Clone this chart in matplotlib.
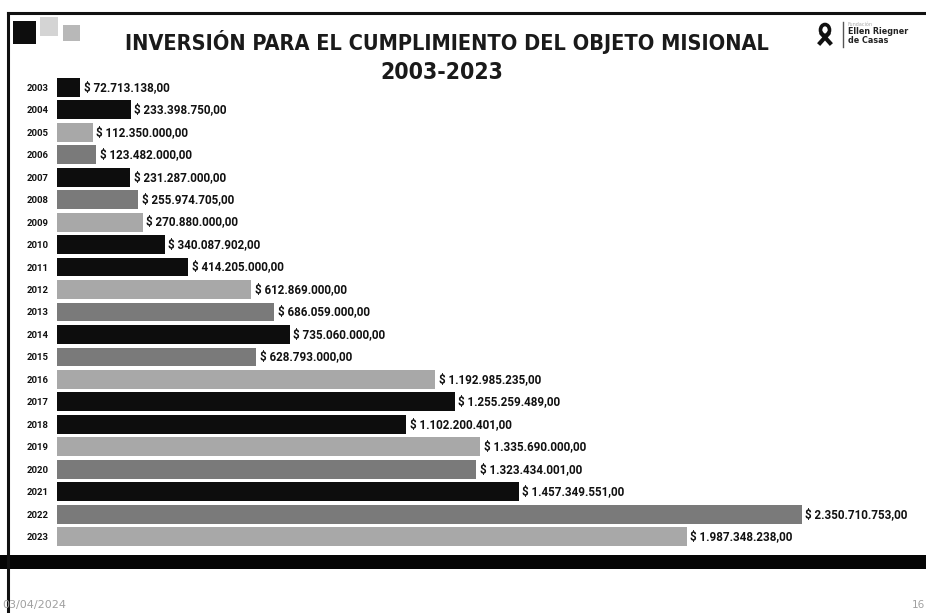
import matplotlib
matplotlib.use("Agg")
import matplotlib.pyplot as plt
from matplotlib.patches import Rectangle, Ellipse
from matplotlib.lines import Line2D
from matplotlib import font_manager

years = ["2003", "2004", "2005", "2006", "2007", "2008", "2009", "2010", "2011", "2012", "2013",
         "2014", "2015", "2016", "2017", "2018", "2019", "2020", "2021", "2022", "2023"]
values = [72713138.00, 233398750.00, 112350000.00, 123482000.00, 231287000.00, 255974705.00,
          270880000.00, 340087902.00, 414205000.00, 612869000.00, 686059000.00, 735060000.00,
          628793000.00, 1192985235.00, 1255259489.00, 1102200401.00, 1335690000.00,
          1323434001.00, 1457349551.00, 2350710753.00, 1987348238.00]
labels = ["$ 72.713.138,00", "$ 233.398.750,00", "$ 112.350.000,00", "$ 123.482.000,00",
          "$ 231.287.000,00", "$ 255.974.705,00", "$ 270.880.000,00", "$ 340.087.902,00",
          "$ 414.205.000,00", "$ 612.869.000,00", "$ 686.059.000,00", "$ 735.060.000,00",
          "$ 628.793.000,00", "$ 1.192.985.235,00", "$ 1.255.259.489,00", "$ 1.102.200.401,00",
          "$ 1.335.690.000,00", "$ 1.323.434.001,00", "$ 1.457.349.551,00", "$ 2.350.710.753,00",
          "$ 1.987.348.238,00"]
tones = ["k", "k", "l", "m", "k", "m", "l", "k", "k", "l", "m", "k", "m", "l", "k", "k", "l", "m", "k", "m", "l"]
title = "INVERSIÓN PARA EL CUMPLIMIENTO DEL OBJETO MISIONAL"
subtitle = "2003-2023"

# look for a condensed bold face
cond = None
for f in font_manager.fontManager.ttflist:
    n = f.fname.lower()
    if ("condensed" in n or "narrow" in n) and ("bold" in n) and "oblique" not in n and "italic" not in n:
        cond = f.fname
        break
if cond:
    title_fp = font_manager.FontProperties(fname=cond, size=15.6)
    sub_fp = font_manager.FontProperties(fname=cond, size=16.5)
else:
    title_fp = font_manager.FontProperties(family="DejaVu Sans", weight="bold", size=13.5)
    sub_fp = font_manager.FontProperties(family="DejaVu Sans", weight="bold", size=15)

palette = {"k": "#0d0d0d", "m": "#7a7a7a", "l": "#a8a8a8"}
W, H = 926, 613
fig = plt.figure(figsize=(W / 100, H / 100), dpi=100)
fig.patch.set_facecolor("white")

def fx(px):
    return px / W

def fy(py):
    return 1 - py / H

# slide frame
fig.add_artist(Line2D([fx(8), fx(926)], [fy(13), fy(13)], color="#111111", lw=2.2))
fig.add_artist(Line2D([fx(8), fx(8)], [fy(13), fy(613)], color="#111111", lw=2.2))
# bottom thick band
fig.add_artist(Rectangle((0, fy(569)), 1, (569 - 555) / H, color="#050505", lw=0))

# decorative squares
fig.add_artist(Rectangle((fx(13), fy(44)), 23 / W, 23 / H, color="#0d0d0d", lw=0))
fig.add_artist(Rectangle((fx(40), fy(36)), 18 / W, 19 / H, color="#d4d4d4", lw=0))
fig.add_artist(Rectangle((fx(63), fy(41)), 17 / W, 16 / H, color="#b8b8b8", lw=0))

# title
fig.text(fx(447), fy(42), title, ha="center", va="center", fontproperties=title_fp, color="#1a1a1a")
fig.text(fx(442), fy(72.5), subtitle, ha="center", va="center", fontproperties=sub_fp, color="#1a1a1a")

# logo: ribbon
fig.add_artist(Ellipse((fx(825), fy(30)), 9 / W, 11 / H, fill=False, ec="#111111", lw=2.6))
fig.add_artist(Line2D([fx(822), fx(830)], [fy(34), fy(43)], color="#111111", lw=3))
fig.add_artist(Line2D([fx(828), fx(820)], [fy(34), fy(43)], color="#111111", lw=3))
fig.add_artist(Line2D([fx(843), fx(843)], [fy(22), fy(47)], color="#555555", lw=1))
fig.text(fx(848), fy(25), "Fundación", ha="left", va="center", fontsize=3.5, color="#aaaaaa")
fig.text(fx(848), fy(36), "Ellen Riegner\nde Casas", ha="left", va="center", fontsize=5.8,
         fontweight="bold", color="#222222", linespacing=0.9)

# footer
fig.text(fx(2), fy(605), "03/04/2024", ha="left", va="center", fontsize=8, color="#a0a0a0")
fig.text(fx(918), fy(605), "16", ha="center", va="center", fontsize=7.5, color="#a0a0a0")

# bars
ax = fig.add_axes([fx(57), fy(548), (900 - 57) / W, (548 - 76) / H])
ypos = list(range(len(years)))
ax.barh(ypos, values, height=0.84, color=[palette[t] for t in tones], edgecolor="none")
ax.set_ylim(len(years) - 0.5, -0.5)
ax.set_xlim(0, max(values) * 843 / 745)
ax.set_yticks(ypos)
ax.set_yticklabels(years, fontsize=6.8, fontweight="bold", family="Roboto", color="#111111")
ax.tick_params(axis="y", length=0, pad=6)
ax.set_xticks([])
for s in ax.spines.values():
    s.set_visible(False)
ax.patch.set_alpha(0)
for y, v, lab in zip(ypos, values, labels):
    ax.annotate(lab, (v, y), xytext=(2.5, 0), textcoords="offset points", ha="left", va="center",
                fontsize=8.4, fontweight="bold", family="Roboto", color="#111111")

fig.savefig("out.png", dpi=100)
